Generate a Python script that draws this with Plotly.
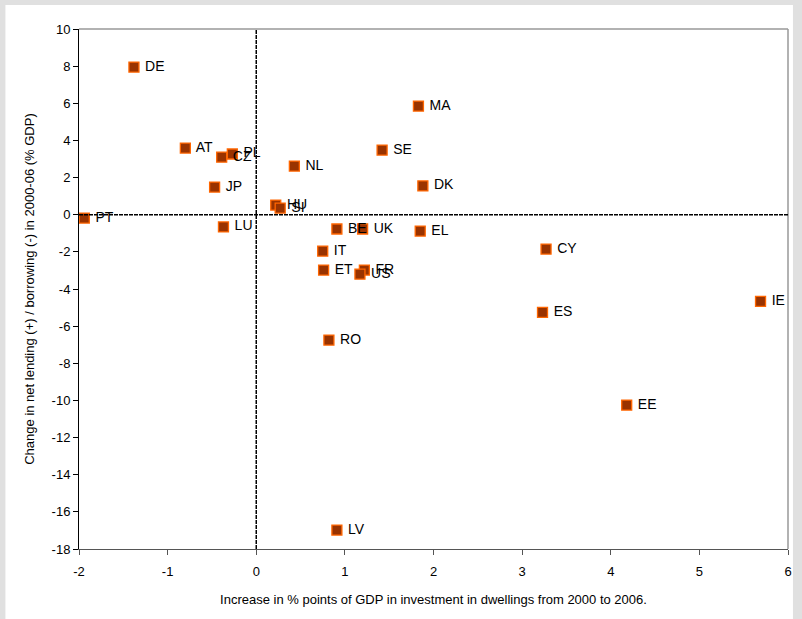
import plotly.graph_objects as go

countries = ["DE", "AT", "CZ", "PL", "JP", "PT", "LU", "HU", "SI", "NL", "MA", "SE", "DK",
             "BE", "UK", "EL", "CY", "IT", "ET", "FR", "US", "ES", "IE", "RO", "EE", "LV"]
dwellings_increase = [-1.38, -0.80, -0.39, -0.27, -0.47, -1.94, -0.37, 0.22, 0.27, 0.43, 1.83, 1.42, 1.88,
                      0.91, 1.20, 1.85, 3.27, 0.75, 0.76, 1.22, 1.17, 3.23, 5.69, 0.82, 4.18, 0.91]
net_lending_change = [7.95, 3.59, 3.10, 3.27, 1.49, -0.18, -0.66, 0.52, 0.36, 2.62, 5.85, 3.48, 1.55,
                      -0.77, -0.77, -0.88, -1.85, -1.96, -2.98, -2.98, -3.20, -5.26, -4.67, -6.75, -10.25, -16.98]
x_ticks = [-2, -1, 0, 1, 2, 3, 4, 5, 6]
y_ticks = list(range(-18, 11, 2))

fig = go.Figure()
fig.add_trace(go.Scatter(
    x=dwellings_increase, y=net_lending_change, text=[" " + c for c in countries],
    mode="markers+text", textposition="middle right",
    marker=dict(symbol="square", size=10, color="#993300", line=dict(color="#FF6600", width=1.3)),
    textfont=dict(family="Liberation Sans, Arial", size=14, color="#000000"),
    cliponaxis=False, showlegend=False,
))

L, R, T, B = 79, 792, 29, 549
W, H = 802, 619
def px(p):
    return (p - L) / (R - L)
def py(q):
    return (B - q) / (B - T)

fig.update_layout(
    width=W, height=H,
    margin=dict(l=L, r=W - R, t=T, b=H - B),
    paper_bgcolor="#E0E0E0", plot_bgcolor="white",
    font=dict(family="Liberation Sans, Arial", size=13, color="#000000"),
    xaxis=dict(range=[-2, 6], tickvals=x_ticks, ticktext=[str(v) for v in x_ticks],
               showgrid=False, zeroline=False,
               showline=True, linecolor="#555555", linewidth=1, ticks="outside", ticklen=5,
               tickcolor="#555555", tickfont=dict(size=13), ticklabelstandoff=5,
               title=dict(text="Increase in % points of GDP in investment in dwellings from 2000 to 2006.",
                          font=dict(size=13), standoff=17)),
    yaxis=dict(range=[-18, 10], tickvals=y_ticks, ticktext=[str(v) for v in y_ticks],
               showgrid=False, zeroline=False,
               showline=True, linecolor="#000000", linewidth=1, ticks="outside", ticklen=5,
               tickcolor="#000000", tickfont=dict(size=13),
               title=dict(text="Change in net lending (+) / borrowing (-) in 2000-06 (% GDP)",
                          font=dict(size=13), standoff=14)),
    shapes=[
        dict(type="rect", xref="paper", yref="paper", x0=px(5), x1=px(797), y0=py(625), y1=py(5),
             fillcolor="white", line=dict(width=0), layer="below"),
        dict(type="line", xref="paper", yref="paper", x0=0, x1=1, y0=1, y1=1,
             line=dict(color="#999999", width=1.5)),
        dict(type="line", xref="paper", yref="paper", x0=1, x1=1, y0=0, y1=1,
             line=dict(color="#999999", width=1.5)),
        dict(type="line", xref="x", yref="paper", x0=0, x1=0, y0=0, y1=1,
             line=dict(color="#000000", width=1.5, dash="4px,1px")),
        dict(type="line", xref="paper", yref="y", x0=0, x1=1, y0=0, y1=0,
             line=dict(color="#000000", width=1.5, dash="4px,1px")),
    ],
)

fig.write_html("out.html", config={"displayModeBar": False},
               post_script="document.body.style.margin='0';document.body.style.overflow='hidden';")
